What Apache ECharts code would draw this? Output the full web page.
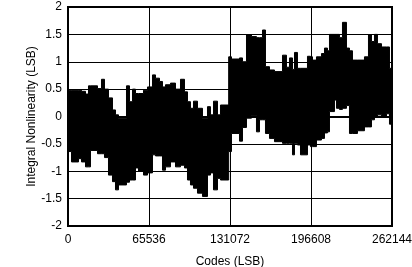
<!DOCTYPE html>
<html>
<head>
<meta charset="utf-8">
<script src="https://cdn.jsdelivr.net/npm/echarts@6/dist/echarts.min.js"></script>
<style>html,body{margin:0;padding:0;background:#fff}#c{width:412px;height:267px}</style>
</head>
<body>
<div id="c"></div>
<script>
// X tick labels (codes)
var xTicks = [0, 65536, 131072, 196608, 262144];
var yTicks = [-2, -1.5, -1, -0.5, 0, 0.5, 1, 1.5, 2];
// Envelope of the INL trace: each segment starts at segStart[i] (code) and ends at the next start
var segStart = [0, 2830, 8490, 10920, 14160, 16580, 18200, 23870, 27100, 29530,
  32760, 36000, 38430, 40850, 47330, 49750, 52180, 54610, 57030, 61080,
  64320, 68360, 70790, 74020, 76450, 78880, 82920, 86970, 91010, 94250,
  96680, 99100, 101530, 104770, 108810, 112860, 115280, 117710, 120950, 123370,
  130000, 132280, 138750, 141180, 144410, 148460, 152500, 154930, 157360, 159780,
  163020, 167060, 173540, 176770, 179200, 181630, 183250, 185670, 188100, 193760,
  196190, 197810, 201040, 205090, 207520, 209940, 211560, 215600, 217220, 219650,
  222080, 225310, 227740, 230170, 234210, 239870, 243110, 245540, 247960, 250390,
  253630, 257670, 260100];
var segEnd = 262144;
var upper = [0.48, 0.48, 0.48, 0.46, 0.41, 0.56, 0.56, 0.51, 0.68, 0.50,
  0.34, 0.12, 0.03, -0.03, 0.56, 0.27, 0.50, 0.42, 0.42, 0.48,
  0.54, 0.76, 0.70, 0.64, 0.54, 0.58, 0.61, 0.50, 0.68, 0.45,
  0.27, 0.15, 0.28, 0.15, -0.03, 0.18, 0.03, 0.28, 0.03, 0.21,
  1.09, 1.05, 1.07, 1.00, 1.49, 1.46, 1.44, 1.44, 1.58, 0.91,
  0.85, 0.82, 1.12, 0.90, 1.07, 0.86, 1.17, 0.88, 0.88, 1.10,
  1.09, 1.03, 1.09, 1.15, 1.25, 1.20, 1.50, 1.50, 1.50, 1.44,
  1.72, 1.25, 1.20, 1.03, 1.03, 1.09, 1.49, 1.37, 1.50, 1.33,
  1.27, 1.27, 0.88];
var lower = [-0.64, -0.83, -0.77, -0.83, -0.92, -0.92, -0.62, -0.68, -0.68, -0.75,
  -1.07, -1.19, -1.34, -1.25, -1.20, -1.16, -1.16, -0.94, -1.00, -1.07,
  -1.03, -0.70, -0.72, -0.72, -0.98, -0.92, -0.83, -0.92, -0.89, -0.94,
  -1.16, -1.25, -1.31, -1.40, -1.46, -1.07, -1.03, -1.34, -1.13, -1.16,
  -0.64, -0.31, -0.45, -0.20, -0.03, 0.02, -0.28, -0.06, -0.06, -0.31,
  -0.40, -0.46, -0.49, -0.49, -0.49, -0.70, -0.49, -0.52, -0.70, -0.52,
  -0.55, -0.55, -0.43, -0.40, -0.30, -0.28, 0.09, 0.30, 0.15, 0.13,
  0.15, 0.20, -0.31, -0.31, -0.26, -0.19, -0.19, -0.06, 0.00, 0.03,
  0.00, 0.05, -0.14];

var data = segStart.map(function (s, i) {
  var e = i + 1 < segStart.length ? segStart[i + 1] : segEnd;
  return [s, e, lower[i], upper[i]];
});

var font = 'Liberation Sans, Arial, Helvetica, sans-serif';
var chart = echarts.init(document.getElementById('c'), null, {renderer: 'canvas'});
chart.setOption({
  animation: false,
  backgroundColor: '#fff',
  grid: {left: 68, right: 20, top: 7, bottom: 41, show: true, borderColor: '#000', borderWidth: 2,
    backgroundColor: 'transparent', containLabel: false, outerBoundsMode: 'none'},
  xAxis: {
    type: 'value', min: 0, max: 262144, interval: 65536,
    name: 'Codes (LSB)', nameLocation: 'middle', nameGap: 30, nameMoveOverlap: false,
    nameTextStyle: {fontFamily: font, fontSize: 12, color: '#000'},
    axisLine: {show: true, lineStyle: {color: '#000', width: 2}},
    axisTick: {show: false},
    axisLabel: {fontFamily: font, fontSize: 12, color: '#000', margin: 8,
      formatter: function (v) { return xTicks.indexOf(v) >= 0 ? String(v) : ''; }},
    splitLine: {show: true, lineStyle: {color: '#000', width: 1}}
  },
  yAxis: {
    type: 'value', min: -2, max: 2, interval: 0.5,
    name: 'Integral Nonlinearity (LSB)', nameLocation: 'middle', nameGap: 30, nameMoveOverlap: false,
    nameTextStyle: {fontFamily: font, fontSize: 12, color: '#000'},
    axisLine: {show: true, lineStyle: {color: '#000', width: 2}},
    axisTick: {show: false},
    axisLabel: {fontFamily: font, fontSize: 12, color: '#000', margin: 6,
      formatter: function (v) { return yTicks.indexOf(v) >= 0 ? String(v) : ''; }},
    splitLine: {show: true, lineStyle: {color: '#000', width: 1}}
  },
  series: [{
    type: 'custom',
    clip: true,
    data: data,
    encode: {x: [0, 1], y: [2, 3]},
    renderItem: function (params, api) {
      if (params.dataIndex !== 0) { return null; }
      // one outline polygon of the whole envelope, mapped through the axes
      var top = [], bottom = [];
      for (var i = 0; i < data.length; i++) {
        var d = data[i];
        top.push(api.coord([d[0], d[3]]));
        top.push(api.coord([d[1], d[3]]));
        bottom.push(api.coord([d[0], d[2]]));
        bottom.push(api.coord([d[1], d[2]]));
      }
      var pts = top.concat(bottom.reverse());
      return {
        type: 'polygon',
        shape: {points: pts},
        style: {fill: '#000', stroke: '#000', lineWidth: 1}
      };
    }
  }]
});
</script>
</body>
</html>
